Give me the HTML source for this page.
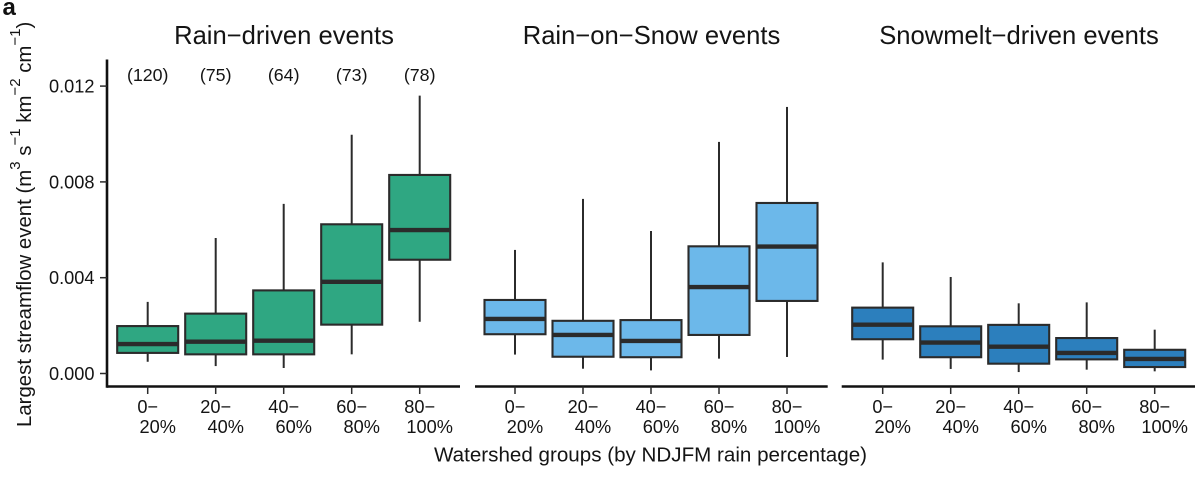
<!DOCTYPE html>
<html lang="en">
<head>
<meta charset="utf-8">
<title>Largest streamflow event by watershed group</title>
<style>
html,body{margin:0;padding:0;background:#fff;width:1200px;height:480px;overflow:hidden}
svg{display:block}
text{font-family:"Liberation Sans",Arial,sans-serif;fill:#141414}
</style>
</head>
<body>
<svg id="chart" xmlns="http://www.w3.org/2000/svg" width="1200" height="480" viewBox="0 0 1200 480">
  <text x="2.5" y="15" font-size="24" font-weight="bold" style="fill:#111">a</text>
  <text transform="translate(31,427) rotate(-90)" font-size="20.4">Largest streamflow event (m<tspan font-size="15" dy="-11">3</tspan><tspan dy="11"> s</tspan><tspan font-size="15" dy="-11">−1</tspan><tspan dy="11"> km</tspan><tspan font-size="15" dy="-11">−2</tspan><tspan dy="11"> cm</tspan><tspan font-size="15" dy="-11">−1</tspan><tspan dy="11">)</tspan></text>
  <text x="650.5" y="461.5" font-size="20.6" text-anchor="middle">Watershed groups (by NDJFM rain percentage)</text>
</svg>
<script>
// Chart data
const titles = ["Rain−driven events", "Rain−on−Snow events", "Snowmelt−driven events"];
const groupStarts = ["0−", "20−", "40−", "60−", "80−"];
const groupEnds = ["20%", "40%", "60%", "80%", "100%"];
const counts = ["(120)", "(75)", "(64)", "(73)", "(78)"];
const yTicks = [0, 0.004, 0.008, 0.012];
const yTickLabels = ["0.000", "0.004", "0.008", "0.012"];

const rainLow = [0.00049, 0.00031, 0.00023, 0.00080, 0.00216];
const rainQ1 = [0.00086, 0.00080, 0.00080, 0.00204, 0.00475];
const rainMedian = [0.00123, 0.00133, 0.00137, 0.00383, 0.00599];
const rainQ3 = [0.00198, 0.00250, 0.00347, 0.00623, 0.00829];
const rainHigh = [0.00299, 0.00566, 0.00708, 0.00997, 0.01160];

const rosLow = [0.00079, 0.00020, 0.00013, 0.00062, 0.00069];
const rosQ1 = [0.00164, 0.00070, 0.00068, 0.00161, 0.00303];
const rosMedian = [0.00228, 0.00161, 0.00136, 0.00361, 0.00530];
const rosQ3 = [0.00307, 0.00220, 0.00223, 0.00531, 0.00712];
const rosHigh = [0.00516, 0.00729, 0.00595, 0.00967, 0.01113];

const snowLow = [0.00058, 0.00019, 0.00006, 0.00016, 0.00009];
const snowQ1 = [0.00143, 0.00068, 0.00041, 0.00059, 0.00027];
const snowMedian = [0.00204, 0.00129, 0.00112, 0.00086, 0.00061];
const snowQ3 = [0.00275, 0.00197, 0.00203, 0.00148, 0.00099];
const snowHigh = [0.00464, 0.00403, 0.00293, 0.00297, 0.00183];

const panelSeries = [
  {low: rainLow, q1: rainQ1, med: rainMedian, q3: rainQ3, high: rainHigh},
  {low: rosLow, q1: rosQ1, med: rosMedian, q3: rosQ3, high: rosHigh},
  {low: snowLow, q1: snowQ1, med: snowMedian, q3: snowQ3, high: snowHigh}
];

// Layout
const panelFills = ["#2fa782", "#6cb8ea", "#2c7fbd"];
const panelKeys = ["rain", "rain-on-snow", "snowmelt"];
const panelFirstCenter = [147.7, 515, 882.7];
const panelAxisStart = [107, 475, 841.7];
const panelAxisEnd = [460, 827.7, 1195];
const titleCenters = [284, 651.5, 1019];
const step = 68;
const halfBox = 30.5;
const axisY = 386.5;
const ink = "#2b2b2b";

const xScale = (panel, i) => panelFirstCenter[panel] + i * step;
const yScale = v => 373.5 - v * 23950;

const svg = document.getElementById("chart");
const NS = "http://www.w3.org/2000/svg";
function make(tag, attrs, text) {
  const el = document.createElementNS(NS, tag);
  for (const k in attrs) el.setAttribute(k, attrs[k]);
  if (text !== undefined) el.textContent = text;
  svg.appendChild(el);
  return el;
}
function line(x1, y1, x2, y2, w) {
  return make("line", {x1, y1, x2, y2, stroke: ink, "stroke-width": w});
}

// Y axis
const yAxis = line(panelAxisStart[0], 59.5, panelAxisStart[0], axisY + 1.3, 2.6);


yAxis.setAttribute('stroke', '#111');

yTicks.forEach((t, i) => {
  const tick = line(100, yScale(t), panelAxisStart[0], yScale(t), 1.5);
  
  
  const label = make("text", {x: 94.5, y: yScale(t) + 6.4, "font-size": 18.2, "text-anchor": "end"}, yTickLabels[i]);
  
  
});

// Panels
titles.forEach((title, p) => {
  const titleEl = make("text", {x: titleCenters[p], y: 44, "font-size": 25.6, "text-anchor": "middle"}, title);
  
  

  const xAxis = line(panelAxisStart[p], axisY, panelAxisEnd[p], axisY, 2.6);
  
  
  xAxis.setAttribute('stroke', '#111');

  const s = panelSeries[p];
  groupStarts.forEach((start, i) => {
    const cx = xScale(p, i);

    const tick = line(cx, axisY, cx, 394, 1.5);
    
    

    const l1 = make("text", {x: cx, y: 413, "font-size": 18.2, "text-anchor": "middle"}, start);
    
    

    const l2 = make("text", {x: cx + 10, y: 433, "font-size": 18.2, "text-anchor": "middle"}, groupEnds[i]);
    
    

    const whiskerHigh = line(cx, yScale(s.high[i]), cx, yScale(s.q3[i]), 2);
    
    

    const whiskerLow = line(cx, yScale(s.q1[i]), cx, yScale(s.low[i]), 2);
    
    

    const box = make("rect", {
      x: cx - halfBox,
      y: yScale(s.q3[i]),
      width: halfBox * 2,
      height: yScale(s.q1[i]) - yScale(s.q3[i]),
      fill: panelFills[p],
      stroke: ink,
      "stroke-width": 2.1
    });
    
    

    const median = line(cx - halfBox, yScale(s.med[i]), cx + halfBox, yScale(s.med[i]), 4.4);
    
    
  });
});

// Sample counts (first panel only)
counts.forEach((c, i) => {
  const el = make("text", {x: xScale(0, i), y: 81, "font-size": 17.8, "text-anchor": "middle"}, c);
  
  
});
</script>
</body>
</html>
